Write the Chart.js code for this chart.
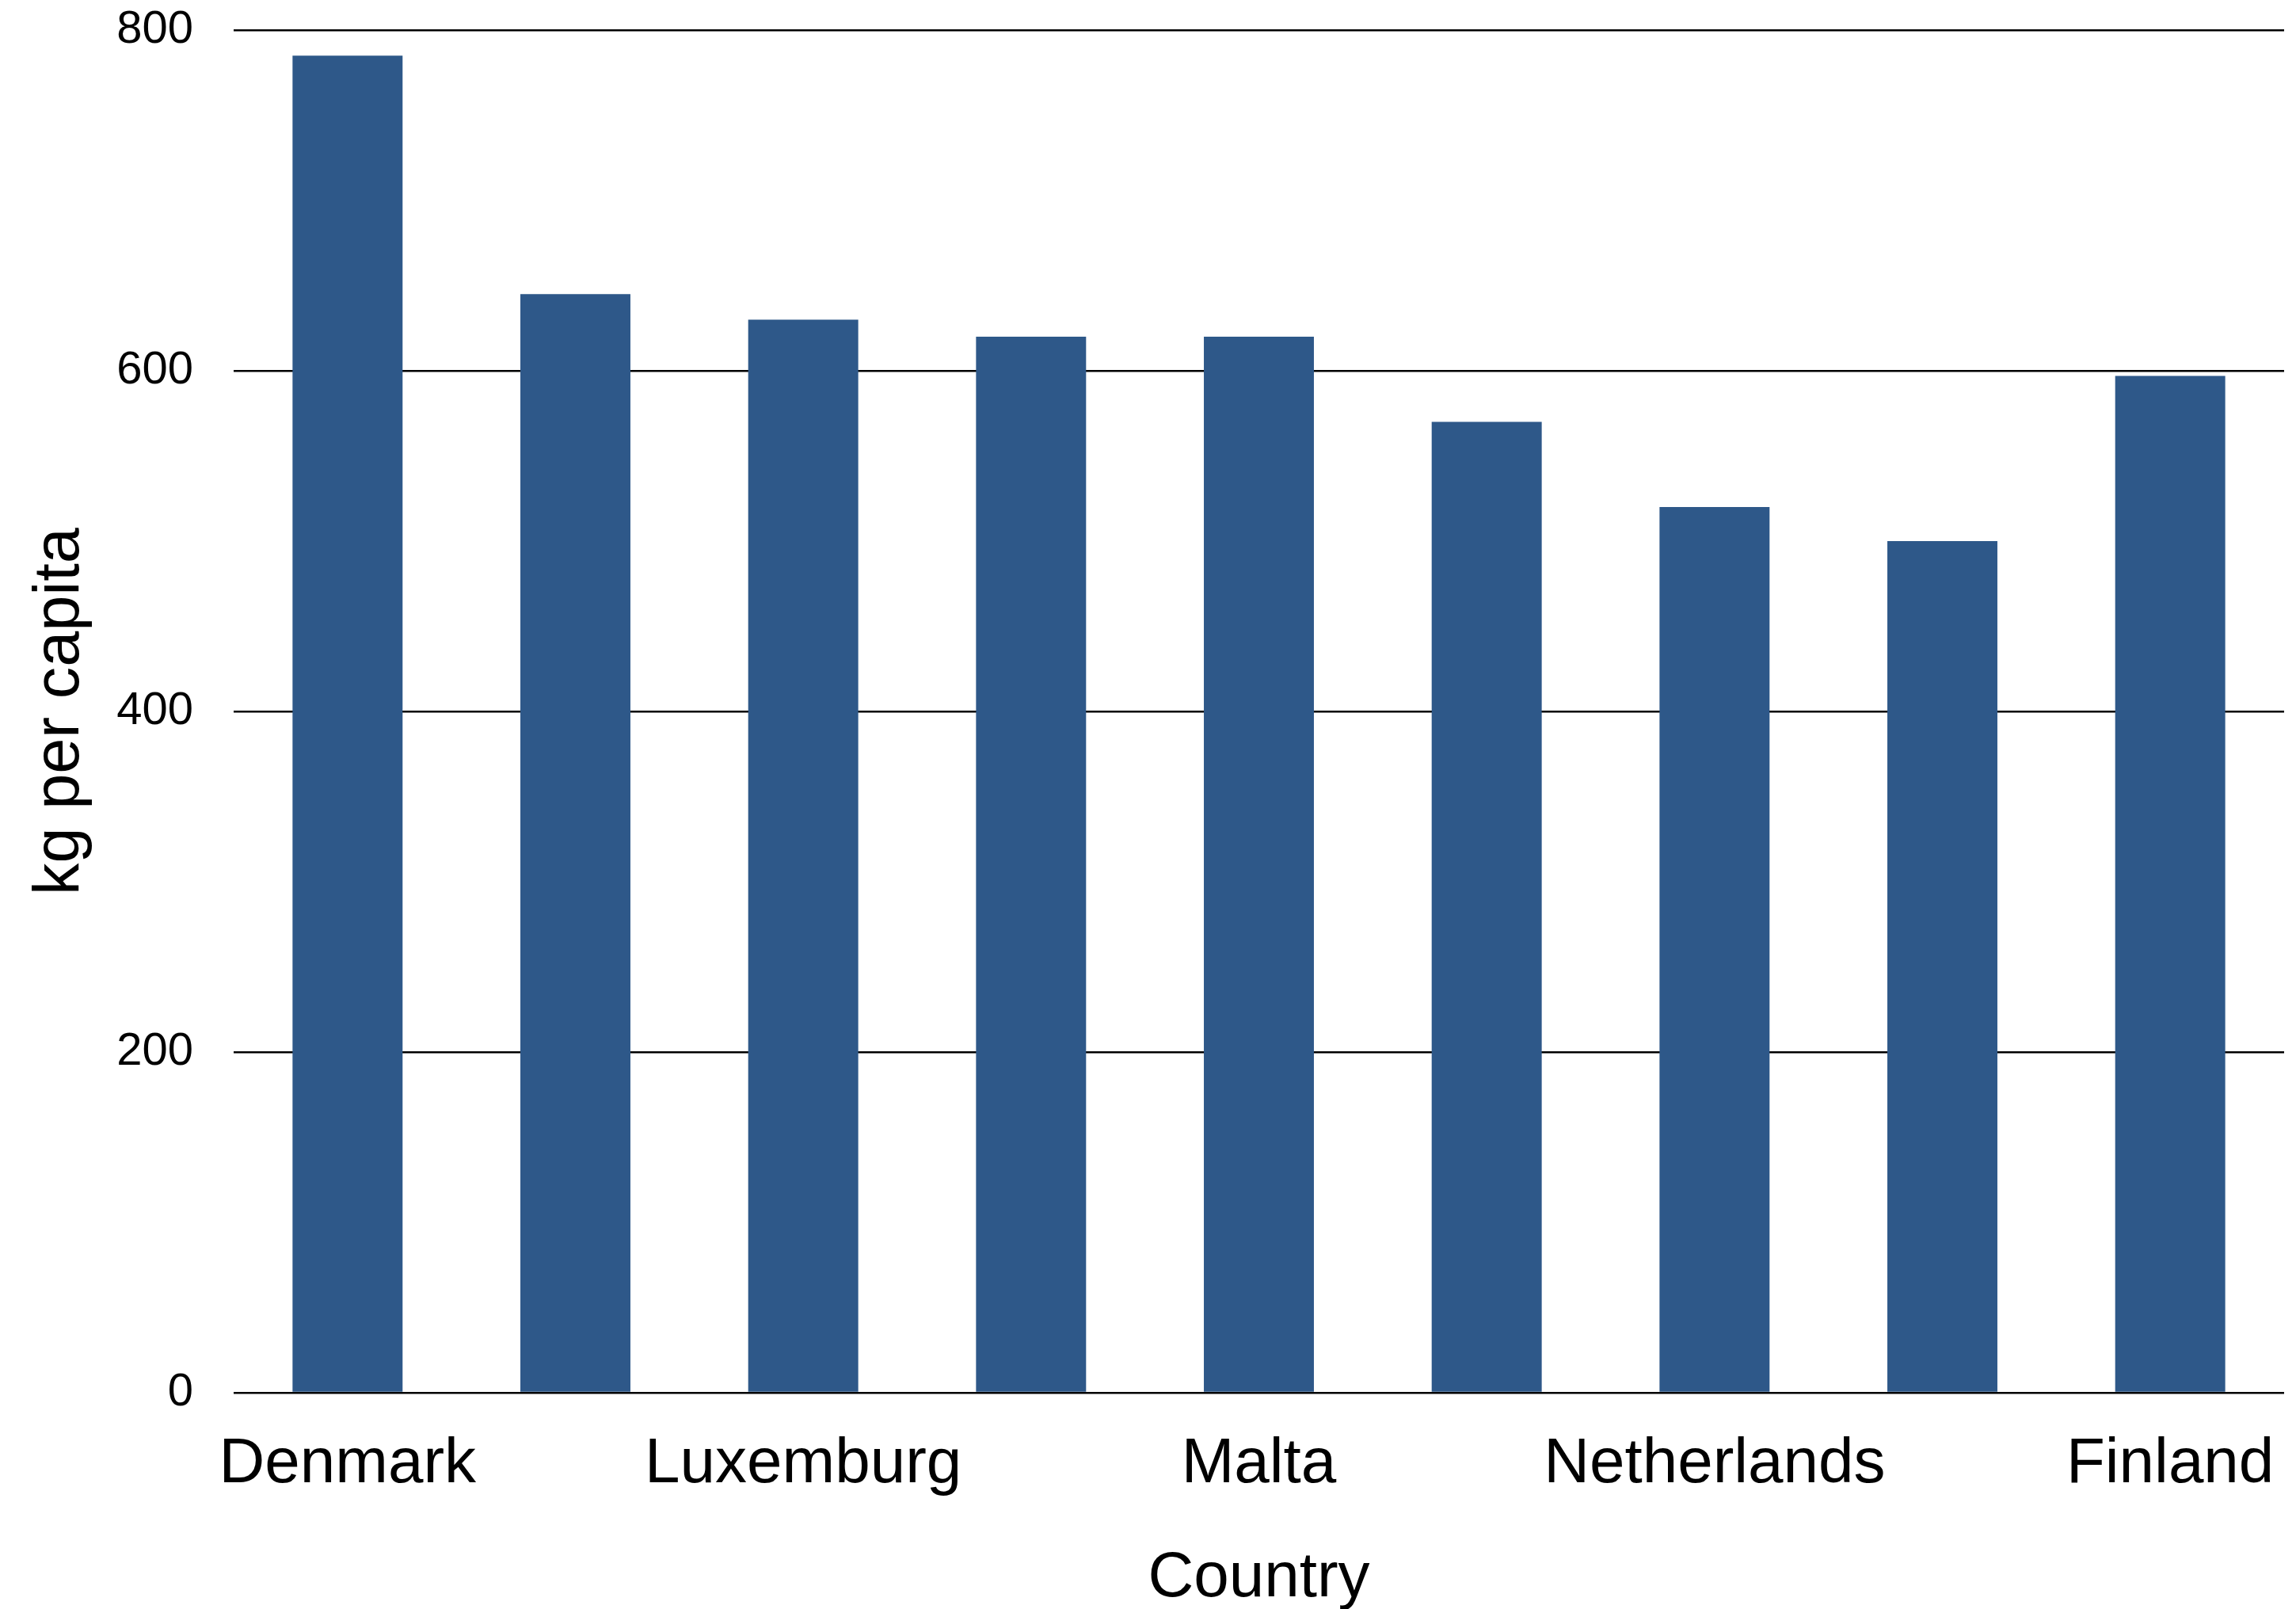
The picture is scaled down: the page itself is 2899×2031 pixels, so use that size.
<!DOCTYPE html>
<html>
<head>
<meta charset="utf-8">
<script src="https://cdn.jsdelivr.net/npm/chart.js@4"></script>
<style>
    html, body { margin: 0; padding: 0; background: #fff; }
    #wrap { width: 2899px; height: 2031px; }
</style>
</head>
<body>
<div id="wrap"><canvas id="myChart" width="2899" height="2031"></canvas></div>
<script>
// datos del grafico
const paises = ['Denmark', 'Cyprus', 'Luxemburg', 'Ireland', 'Malta', 'Austria', 'Netherlands', 'Germany', 'Finland'];
const kgPorHabitante = [785, 645, 630, 620, 620, 570, 520, 500, 597];
const ticksY = [0, 200, 400, 600, 800];

const fuente = '"Liberation Sans", Arial, Helvetica, sans-serif';

const ctx = document.getElementById('myChart').getContext('2d');
new Chart(ctx, {
    type: 'bar',
    data: {
        labels: paises,
        datasets: [{
            label: 'kg per capita',
            data: kgPorHabitante,
            backgroundColor: '#2e5889',
            borderWidth: 0,
            barPercentage: 0.483,
            categoryPercentage: 1
        }]
    },
    options: {
        responsive: false,
        animation: false,
        devicePixelRatio: 1,
        layout: {
            padding: { top: 38, right: 15, bottom: 0, left: 0 }
        },
        plugins: {
            legend: { display: false },
            tooltip: { enabled: false }
        },
        scales: {
            x: {
                grid: { display: false, drawTicks: false },
                border: { display: false },
                ticks: {
                    autoSkip: false,
                    maxRotation: 0,
                    minRotation: 0,
                    padding: 43,
                    color: '#000',
                    font: { family: fuente, size: 80 },
                    // solo una etiqueta de cada dos
                    callback: function(value, index) {
                        return index % 2 === 0 ? paises[index] : '';
                    }
                },
                title: {
                    display: true,
                    text: 'Country',
                    color: '#000',
                    font: { family: fuente, size: 80, lineHeight: 1 },
                    padding: { top: 0, bottom: -2 }
                },
                afterFit: function(scale) {
                    scale.height = 273;
                    scale.paddingLeft = 0;
                    scale.paddingRight = 0;
                }
            },
            y: {
                min: 0,
                max: 800,
                afterBuildTicks: function(scale) {
                    scale.ticks = ticksY.map(v => ({ value: v }));
                },
                grid: {
                    color: '#000',
                    lineWidth: 2.5,
                    drawTicks: false
                },
                border: { display: false },
                ticks: {
                    padding: 51,
                    color: '#000',
                    font: { family: fuente, size: 58 }
                },
                title: {
                    display: true,
                    text: 'kg per capita',
                    color: '#000',
                    font: { family: fuente, size: 81, lineHeight: 1.2 },
                    padding: { top: 28, bottom: 0 }
                },
                afterFit: function(scale) {
                    scale.width = 295;
                    scale.paddingTop = 0;
                    scale.paddingBottom = 0;
                }
            }
        }
    }
});
</script>
</body>
</html>
